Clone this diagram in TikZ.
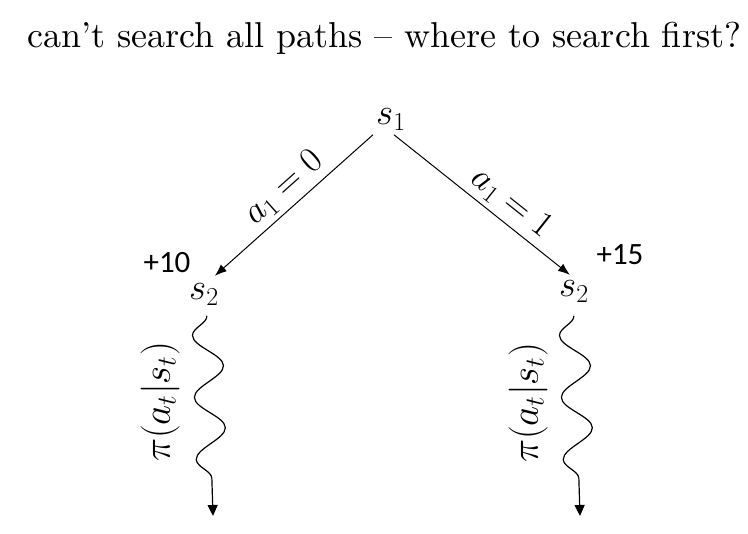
\RequirePackage{fix-cm}
\documentclass[tikz,border=0pt]{standalone}
\usepackage{fontspec}
\usetikzlibrary{arrows.meta,decorations.pathmorphing}
\newfontfamily\rewardfont{Carlito}
\newfontfamily\titlefont{lmroman10-regular.otf}[Ligatures=TeX]
\begin{document}
\begin{tikzpicture}[x=1pt,y=1pt,
  state/.style={inner sep=1pt, font=\fontsize{37}{40}\selectfont},
  reward/.style={inner sep=0pt, font=\rewardfont\fontsize{31}{34}\selectfont},
  act/.style={-{Latex[length=12pt,width=9pt]}, line width=1pt},
  roll/.style={-{Triangle[length=11pt,width=10pt]}, line width=1.2pt, decorate,
    decoration={snake, segment length=62pt, amplitude=15pt, mirror, post length=30pt}},
  lab/.style={font=\fontsize{36}{40}\selectfont, sloped, inner sep=2pt},
  pol/.style={font=\fontsize{39}{42}\selectfont, rotate=90, inner sep=0pt}]
\useasboundingbox (0,0) rectangle (748,534);
\node[anchor=base west, font=\titlefont\fontsize{36}{40}\selectfont, inner sep=0pt] (title) at (27,486)
  {can't search all paths -- where to search first?};
\node[state, anchor=base west] (s1) at (375,409) {$s_1$};
\node[state, anchor=base west] (s2l) at (188,234) {$s_2$};
\node[state, anchor=base west] (s2r) at (558,237) {$s_2$};
\node[reward] (r10) at (167,271) {+10};
\node[reward] (r15) at (620,279) {+15};
\coordinate (endL) at (213,18);
\coordinate (endR) at (580,18);
\draw[act] ([shift={(-2,-3)}]s1.south west) -- node[lab, pos=0.48, above=3pt] {$a_1=0$} ([shift={(-5,7)}]s2l.north east);
\draw[act] ([shift={(3,-3)}]s1.south) -- node[lab, pos=0.6, above=3pt] {$a_1=1$} ([shift={(-4,5)}]s2r.north);
\draw[roll] ([shift={(3,-9)}]s2l.south) -- (endL);
\draw[roll] ([yshift=-12pt]s2r.south) -- (endR);
\node[pol] (piL) at (160,132) {$\pi(a_t|s_t)$};
\node[pol] (piR) at (528,131) {$\pi(a_t|s_t)$};
\end{tikzpicture}
\end{document}
